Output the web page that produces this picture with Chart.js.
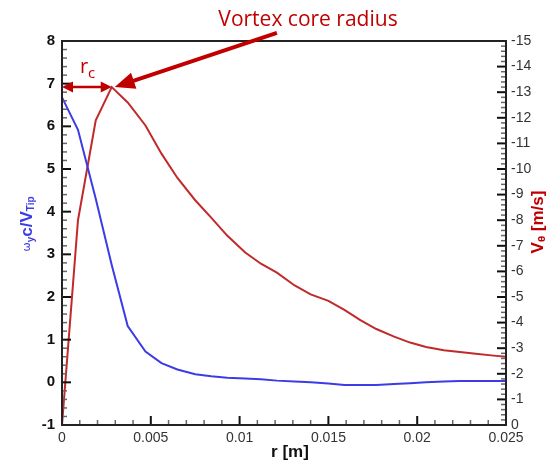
<!DOCTYPE html>
<html>
<head>
<meta charset="utf-8">
<script src="https://cdn.jsdelivr.net/npm/chart.js@4.4.1/dist/chart.umd.min.js"></script>
<style>
  html, body { margin: 0; padding: 0; background: #fff; }
  #wrap { width: 553px; height: 464px; }
</style>
</head>
<body>
<div id="wrap"><canvas id="vortex" width="553" height="464"></canvas></div>
<script>
// radial position r [m]
const rValues = [0, 0.0009, 0.0019, 0.0028, 0.0037, 0.0047, 0.0056, 0.0065, 0.0075, 0.0084,
  0.0093, 0.0103, 0.0112, 0.0121, 0.0131, 0.014, 0.015, 0.0159, 0.0168, 0.0177,
  0.0187, 0.0196, 0.0205, 0.0215, 0.0224, 0.0233, 0.0243, 0.025];

// normalised vorticity  w_y c / V_tip  (left axis)
const vorticity = [6.68, 5.92, 4.3, 2.75, 1.32, 0.72, 0.45, 0.3, 0.19, 0.14,
  0.11, 0.09, 0.07, 0.04, 0.02, 0.0, -0.03, -0.06, -0.06, -0.06,
  -0.04, -0.02, 0.0, 0.02, 0.03, 0.03, 0.03, 0.03];

// swirl velocity V_theta [m/s]  (right axis)
const swirl = [0, -8.0, -11.9, -13.2, -12.6, -11.7, -10.6, -9.65, -8.78, -8.1,
  -7.4, -6.75, -6.3, -5.95, -5.45, -5.1, -4.85, -4.5, -4.1, -3.75,
  -3.45, -3.22, -3.05, -2.92, -2.85, -2.78, -2.71, -2.67];

// annotation anchors in data units
const coreIndex = 3;            // peak of swirl = core radius
const calloutStart = { r: 0.0121, w: 8.19 };

const RED = '#c00000';
const BLUE = '#3c3ce6';

const toPoints = (ys) => ys.map((y, i) => ({ x: rValues[i], y: y }));

const arrowHead = (ctx, x0, y0, x1, y1, len, half) => {
  const a = Math.atan2(y1 - y0, x1 - x0);
  ctx.beginPath();
  ctx.moveTo(x1, y1);
  ctx.lineTo(x1 - len * Math.cos(a) + half * Math.sin(a), y1 - len * Math.sin(a) - half * Math.cos(a));
  ctx.lineTo(x1 - len * Math.cos(a) - half * Math.sin(a), y1 - len * Math.sin(a) + half * Math.cos(a));
  ctx.closePath();
  ctx.fill();
};

// rotated label with subscripts: parts = [[text, font, dy]]
const drawRotated = (ctx, cx, cy, parts, color) => {
  ctx.save();
  ctx.translate(cx, cy);
  ctx.rotate(-Math.PI / 2);
  ctx.fillStyle = color;
  ctx.textBaseline = 'middle';
  ctx.textAlign = 'left';
  let total = 0;
  parts.forEach(p => { ctx.font = p[1]; total += ctx.measureText(p[0]).width; });
  let x = -total / 2;
  parts.forEach(p => {
    ctx.font = p[1];
    ctx.fillText(p[0], x, p[2]);
    x += ctx.measureText(p[0]).width;
  });
  ctx.restore();
};

const framePlugin = {
  id: 'frame',
  afterDraw(chart) {
    const ctx = chart.ctx;
    const { left, right, top, bottom } = chart.chartArea;
    const sx = chart.scales.x, sy = chart.scales.y, sy2 = chart.scales.y2;
    ctx.save();

    // inward ticks
    const tick = (x0, y0, x1, y1, major) => {
      ctx.strokeStyle = major ? '#111' : '#666';
      ctx.lineWidth = major ? 2 : 1.5;
      ctx.beginPath(); ctx.moveTo(x0, y0); ctx.lineTo(x1, y1); ctx.stroke();
    };
    for (let i = 0; i <= 45; i++) {
      const v = -1 + i * 0.2, y = sy.getPixelForValue(v);
      const major = i % 5 === 0;
      tick(left, y, left + (major ? 9 : 5), y, major);
    }
    for (let i = 0; i <= 75; i++) {
      const v = -15 + i * 0.2, y = sy2.getPixelForValue(v);
      const major = i % 5 === 0;
      tick(right, y, right - (major ? 9 : 5), y, major);
    }
    for (let i = 0; i <= 25; i++) {
      const x = sx.getPixelForValue(i * 0.001);
      const major = i % 5 === 0;
      tick(x, bottom, x, bottom - (major ? 9 : 5), major);
    }

    // box
    ctx.lineWidth = 2;
    ctx.strokeStyle = '#222';
    ctx.strokeRect(left, top, right - left, bottom - top);

    // axis titles
    ctx.fillStyle = '#111';
    ctx.font = 'bold 17px "Liberation Sans", Arial, sans-serif';
    ctx.textAlign = 'center';
    ctx.textBaseline = 'middle';
    ctx.fillText('r [m]', (left + right) / 2 + 6, 452);

    drawRotated(ctx, 27, 224, [
      ['\u03c9', '11px "DejaVu Sans", sans-serif', 0],
      ['y', 'bold 10px "Liberation Sans", Arial, sans-serif', 4],
      ['c/V', 'bold 17px "Liberation Sans", Arial, sans-serif', 0],
      ['Tip', 'bold 10px "Liberation Sans", Arial, sans-serif', 4]
    ], BLUE);

    drawRotated(ctx, 538, 222, [
      ['V', 'bold 17px "Liberation Sans", Arial, sans-serif', 0],
      ['\u03b8', 'bold 9px "DejaVu Sans", sans-serif', 5],
      [' [m/s]', 'bold 17px "Liberation Sans", Arial, sans-serif', 0]
    ], RED);

    // annotations
    const px = sx.getPixelForValue(rValues[coreIndex]);
    const py = sy2.getPixelForValue(swirl[coreIndex]);
    ctx.fillStyle = RED;
    ctx.strokeStyle = RED;

    // r_c double arrow
    ctx.lineWidth = 2.5;
    ctx.beginPath(); ctx.moveTo(left + 6, py); ctx.lineTo(px - 6, py); ctx.stroke();
    arrowHead(ctx, px, py, left, py, 11, 5.5);
    arrowHead(ctx, left, py, px, py, 11, 5.5);

    ctx.font = '20px "Open Sans", "Noto Sans", sans-serif';
    ctx.textAlign = 'left';
    ctx.textBaseline = 'alphabetic';
    ctx.fillText('r', 80, 73);
    ctx.font = '15px "Open Sans", "Noto Sans", sans-serif';
    ctx.fillText('c', 88, 78);

    // callout arrow
    const ax = sx.getPixelForValue(calloutStart.r), ay = sy.getPixelForValue(calloutStart.w);
    const a = Math.atan2(py - ay, px - ax);
    ctx.lineWidth = 4;
    ctx.beginPath(); ctx.moveTo(ax, ay);
    ctx.lineTo(px + 3 - 14 * Math.cos(a), py - 14 * Math.sin(a)); ctx.stroke();
    arrowHead(ctx, ax, ay, px + 3, py, 20, 8.5);

    ctx.font = '21px "Open Sans", "Noto Sans", sans-serif';
    ctx.textAlign = 'center';
    ctx.fillText('Vortex core radius', 308, 26);

    ctx.restore();
  }
};

new Chart(document.getElementById('vortex').getContext('2d'), {
  type: 'line',
  data: {
    datasets: [{
      label: 'vorticity',
      data: toPoints(vorticity),
      yAxisID: 'y',
      borderColor: BLUE,
      borderWidth: 2,
      pointRadius: 0,
      tension: 0
    }, {
      label: 'swirl',
      data: toPoints(swirl),
      yAxisID: 'y2',
      borderColor: '#c02a2a',
      borderWidth: 2,
      pointRadius: 0,
      tension: 0
    }]
  },
  options: {
    responsive: false,
    animation: false,
    layout: { padding: { top: 41, left: 0, right: 0, bottom: 0 } },
    plugins: { legend: { display: false }, tooltip: { enabled: false } },
    scales: {
      x: {
        type: 'linear',
        min: 0, max: 0.025,
        grid: { display: false, drawTicks: false },
        border: { display: false },
        ticks: {
          stepSize: 0.005,
          padding: 5,
          maxRotation: 0,
          color: '#333',
          font: { family: '"Liberation Sans", Arial, sans-serif', size: 14 },
          callback: (v) => String(Math.round(v * 1000) / 1000)
        },
        afterFit: (s) => { s.height = 39; }
      },
      y: {
        position: 'left',
        min: -1, max: 8,
        grid: { display: false, drawTicks: false },
        border: { display: false },
        ticks: {
          stepSize: 1,
          padding: 7,
          color: '#111',
          font: { family: '"Liberation Sans", Arial, sans-serif', size: 15, weight: 'bold' }
        },
        afterFit: (s) => { s.width = 62; }
      },
      y2: {
        position: 'right',
        min: -15, max: 0,
        reverse: true,
        grid: { display: false, drawTicks: false },
        border: { display: false },
        ticks: {
          stepSize: 1,
          padding: 5,
          color: '#333',
          font: { family: '"Liberation Sans", Arial, sans-serif', size: 14 }
        },
        afterFit: (s) => { s.width = 47; }
      }
    }
  },
  plugins: [framePlugin]
});
</script>
</body>
</html>
